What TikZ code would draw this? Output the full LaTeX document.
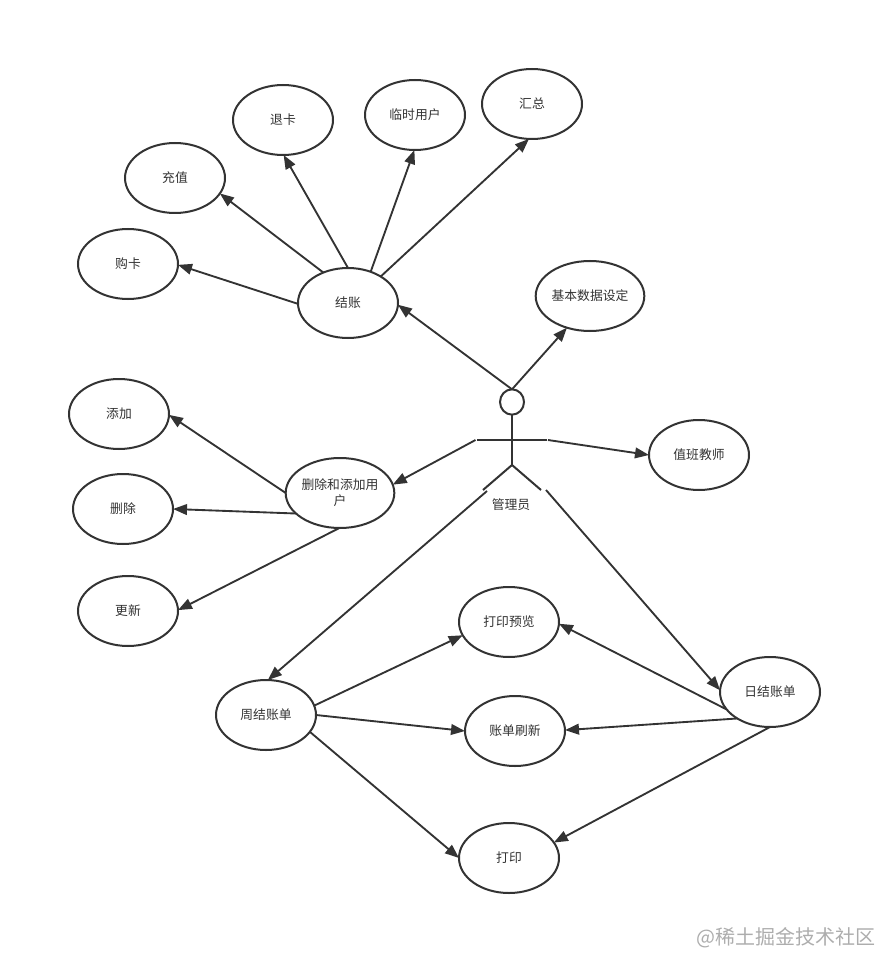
\documentclass[tikz,border=0pt]{standalone}
\usepackage{fontspec}
\setmainfont{Noto Sans CJK SC}
\usetikzlibrary{shapes.geometric,arrows.meta}
\definecolor{ink}{HTML}{333333}
\tikzset{
  x=0.75pt,y=-0.75pt,
  usecase/.style={ellipse,draw=ink,line width=1.5pt,fill=white,minimum width=75pt,minimum height=52.5pt,inner sep=0pt,outer sep=0pt,text=ink,font=\fontsize{9.6}{12}\selectfont,align=center},
  conn/.style={draw=ink,line width=1.4pt,-{Triangle[length=10.5pt,width=8pt]}},
  figure/.style={draw=ink,line width=1.5pt},
  actorhead/.style={ellipse,draw=ink,line width=1.5pt,fill=white,minimum width=18pt,minimum height=19pt,inner sep=0pt,outer sep=0pt},
  actorlabel/.style={text=ink,font=\fontsize{9.6}{12}\selectfont,inner sep=0pt},
  mark text/.style={text=black!32,font=\fontsize{15}{18}\selectfont,inner sep=0pt}
}
\begin{document}
\begin{tikzpicture}
\useasboundingbox (0,0) rectangle (882,955);
\node[usecase] (gk) at (128,264) {购卡};
\node[usecase] (cz) at (175,178) {充值};
\node[usecase] (tk) at (283,120) {退卡};
\node[usecase] (ls) at (415,115) {临时用户};
\node[usecase] (hz) at (532,104) {汇总};
\node[usecase] (jz) at (348,303) {结账};
\node[usecase] (jb) at (590,296) {基本数据设定};
\node[usecase] (zb) at (699,455) {值班教师};
\node[usecase] (tj) at (119,414) {添加};
\node[usecase] (sc) at (123,509) {删除};
\node[usecase] (gx) at (128,611) {更新};
\node[usecase] (del) at (340,493) {删除和添加用\\户};
\node[usecase] (yl) at (509,622) {打印预览};
\node[usecase] (sx) at (515,731) {账单刷新};
\node[usecase] (dy) at (509,858) {打印};
\node[usecase] (zj) at (266,715) {周结账单};
\node[usecase] (rj) at (770,692) {日结账单};
% actor
\node[actorhead] (head) at (512,402) {};
\coordinate (hip) at (512,465);
\coordinate (neck) at (512,440);
\coordinate (handL) at (477,440);
\coordinate (handR) at (547,440);
\coordinate (footL) at (483,490);
\coordinate (footR) at (541,490);
\coordinate (outL) at (475.5,440);
\coordinate (outR) at (548,440);
\coordinate (legL) at (487,491);
\coordinate (legR) at (546,490);
\draw[figure] (head.south) -- (hip);
\draw[figure] (handL) -- (handR);
\draw[figure] (footL) -- (hip) -- (footR);
\node[actorlabel] (actor) at (511,505) {管理员};
% connectors
\draw[conn] (jz.181) -- (gk.-1);
\draw[conn] (jz.129) -- (cz.-19);
\draw[conn] (jz.90) -- (tk.-89);
\draw[conn] (jz.54) -- (ls.-91);
\draw[conn] (jz.39) -- (hz.-95);
\draw[conn] (head.north) -- (jz.-2);
\draw[conn] (head.north) -- (jb.-126);
\draw[conn] (outR) -- (zb.180);
\draw[conn] (outL) -- (del.9);
\draw[conn] (del.180) -- (tj.-1);
\draw[conn] (del.-155) -- (sc.0);
\draw[conn] (del.-91) -- (gx.1);
\draw[conn] (legL) -- (zj.87);
\draw[conn] (legR) -- (rj.178);
\draw[conn] (zj.11.5) -- (yl.-164);
\draw[conn] (zj.0) -- (sx.180);
\draw[conn] (zj.-21) -- (dy.180);
\draw[conn] (rj.-158) -- (yl.-2);
\draw[conn] (rj.-141) -- (sx.1);
\draw[conn] (rj.-90) -- (dy.19);
\node[mark text,anchor=east] (mark) at (876,938) {@稀土掘金技术社区};
\end{tikzpicture}
\end{document}
